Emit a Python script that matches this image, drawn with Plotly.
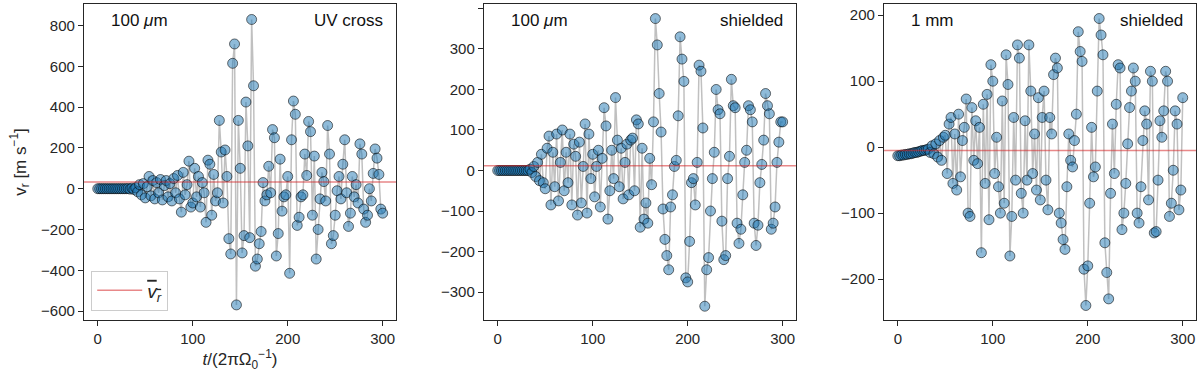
import numpy as np
import plotly.graph_objects as go
from plotly.subplots import make_subplots

# tempo em unidades de 2*pi/Omega_0 (amostragem a cada 2 órbitas)
t = list(range(0, 301, 2))

# 100 um, UV cross
vr_uv = [0, 0, 0, 0, 0, 0, 0, 0, 0, 0, 0, 0, 0, 0, 0, 0, 1, -2, 3, -4,
         5, -15, 20, -30, 25, -45, 10, 60, -35, 40,
         -50, 30, -20, 45, -55, 15, 40, -40, 25, -60,
         50, -20, 65, -50, -115, 80, -30, 20, 135, -90,
         -70, 100, -40, 60, -90, 30, -20, -165, 140, 120,
         -130, 70, -60, -20, 335, 180, -70, 190, 60, -245,
         -320, 615, 710, -570, 335, 100, -315, -230, 425, 210,
         -240, 830, 505, -380, -345, -270, -210, 30, -60, -30,
         110, -20, 290, 250, -330, -220, 145, -110, -40, -30,
         60, -415, 240, 430, 365, -180, -140, -40, -30, 170,
         65, 330, 280, -130, 160, -345, -200, -50, 80, 35,
         -60, 310, 170, -270, -230, -130, -10, 60, -50, 120,
         240, -20, -185, -120, 60, -40, 20, -70, 220, 170,
         -100, -165, -130, 0, -60, 75, 195, 150, 70, -100,
         -120]

# 100 um, shielded
vr_sh = [0, 0, 0, 0, 0, 0, 0, 0, 0, 0, 0, 0, 0, 0, 0, 0, 0, 3, -5, 10,
         -15, 20, -25, 40, -30, -45, 55, 85, -85, 45,
         -40, 90, -75, 20, 100, -50, 45, -30, 90, -85,
         65, 35, -110, 70, -80, 10, 115, -105, 90, -20,
         40, -65, 10, 50, -90, 30, 155, 110, -120, -50,
         50, -20, 180, 75, -40, 55, -70, 20, 65, -60,
         75, 80, -50, 125, 115, -140, 55, -120, -80, -130,
         30, -35, 120, 375, 310, 190, 95, -95, -170, -210,
         -245, -90, -60, 10, 25, 135, 330, 275, 220, -265,
         -275, -175, -30, -20, -85, 20, 260, 245, 105, -335,
         -245, -215, -100, -20, 45, 200, 150, 140, -125, -220,
         -210, -20, 35, 225, 160, 155, -130, -180, -145, -60,
         20, 50, 160, 150, 120, -130, -185, -135, -30, 15,
         75, 190, 160, 140, -145, -130, -90, 20, 70, 120,
         120]

# 1 mm, shielded
vr_mm = [-13, -13, -12, -12, -11, -11, -10, -10, -9, -8, -8, -7, -6, -5, -5, -4, -3, -8, 2, -10,
         5, -15, 10, -20, 15, 18, -40, 35, 45, -55,
         20, -65, 50, -45, 10, 30, 73, -100, -105, 60,
         -20, 40, -25, 30, -160, 65, -55, 80, -110, 125,
         100, -40, 15, -60, -100, 70, -85, 140, 95, -165,
         -105, 45, -50, 155, 135, -70, -100, 40, -50, 155,
         85, -40, 20, -65, 75, -80, 45, 85, -50, -95,
         45, 20, 110, 135, 120, -100, -115, -140, -155, -60,
         20, -20, -30, 10, 50, 175, 145, 130, -185, -240,
         -180, -85, 30, -45, -30, 85, 195, 170, 140, -145,
         -190, -230, -70, 35, -40, 65, 125, 120, -125, -100,
         -55, 5, 60, 85, 120, 100, -100, -115, -60, 10,
         55, 35, -80, 115, 100, -130, -128, -50, 40, 15,
         55, 115, 100, -105, -85, -35, 55, 35, -95, -65,
         75]

series = [vr_uv, vr_sh, vr_mm]
means = [33, 12, -5]          # média
yranges = [[-644, 906], [-369, 411], [-262, 217]]
ydticks = [200, 100, 100]
sizes = ["100 <i>μ</i>m", "100 <i>μ</i>m", "1 mm"]
regimes = ["UV cross", "shielded", "shielded"]
xrange_ = [-14.5, 314]

fig = make_subplots(rows=1, cols=3)
domains = [[0.07, 0.33], [0.4033, 0.6633], [0.7367, 0.9967]]

for i, vr in enumerate(series):
    col = i + 1
    fig.add_trace(go.Scatter(
        x=t, y=vr, mode="lines+markers",
        line=dict(color="rgba(140,140,140,0.55)", width=1.5),
        marker=dict(size=10, color="rgba(31,119,180,0.5)",
                    line=dict(color="rgba(0,0,0,0.55)", width=1)),
        showlegend=False, hoverinfo="skip"), row=1, col=col)
    # linha da média
    fig.add_trace(go.Scatter(
        x=xrange_, y=[means[i], means[i]], mode="lines",
        line=dict(color="rgba(214,39,40,0.55)", width=1.5),
        name="<span style='text-decoration:overline'><i>v<sub>r</sub></i></span>",
        showlegend=(i == 0)), row=1, col=col)

    axis_style = dict(showline=True, mirror=True, linecolor="#262626", linewidth=1.3,
                      ticks="outside", ticklen=5, tickwidth=1.3, tickcolor="#262626",
                      showgrid=False, zeroline=False,
                      tickfont=dict(size=15, color="#262626"))
    fig.update_xaxes(range=xrange_, tickvals=[0, 100, 200, 300], domain=domains[i],
                     **axis_style, row=1, col=col)
    fig.update_yaxes(range=yranges[i], dtick=ydticks[i], **axis_style, row=1, col=col)

    xref = "x domain" if i == 0 else f"x{col} domain"
    yref = "y domain" if i == 0 else f"y{col} domain"
    fig.add_annotation(text=sizes[i], xref=xref, yref=yref, x=0.08, y=0.985,
                       xanchor="left", yanchor="top", showarrow=False,
                       font=dict(size=17, color="#111"))
    fig.add_annotation(text=regimes[i], xref=xref, yref=yref, x=0.965, y=0.985,
                       xanchor="right", yanchor="top", showarrow=False,
                       font=dict(size=17, color="#111"))

fig.update_xaxes(title=dict(text="<i>t</i>/(2πΩ<sub>0</sub><sup>−1</sup>)",
                            font=dict(size=17, color="#262626"), standoff=2), row=1, col=1)
fig.update_yaxes(title=dict(text="v<sub>r</sub> [m s<sup>−1</sup>]",
                            font=dict(size=17, color="#262626"), standoff=10), row=1, col=1)

fig.update_layout(
    width=1200, height=377,
    margin=dict(l=0, r=0, t=4, b=57),
    plot_bgcolor="white", paper_bgcolor="white",
    font=dict(family="Liberation Sans, Arial, sans-serif", size=15, color="#262626"),
    legend=dict(x=0.076, y=0.03, xanchor="left", yanchor="bottom",
                bordercolor="#cccccc", borderwidth=1, bgcolor="rgba(255,255,255,0.8)",
                itemwidth=45, font=dict(size=19)),
)

# remove a margem padrão do <body> para alinhar a figura à janela
fig.write_html("out.html", config={"displayModeBar": False},
               post_script="document.body.style.margin='0';")
